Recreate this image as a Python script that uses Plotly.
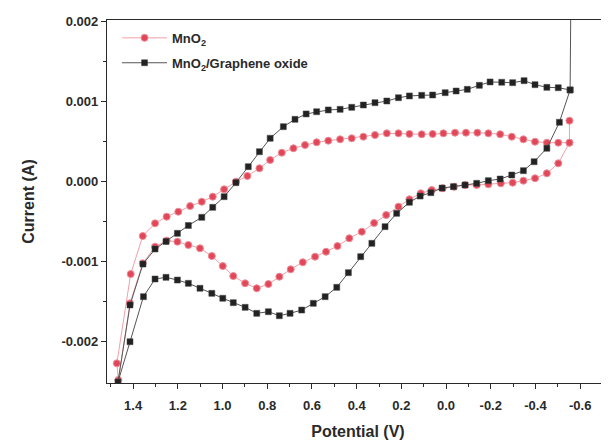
import plotly.graph_objects as go
import numpy as np

# MnO2 (red circles) potential (V) and current (mA)
mno2_v = [-0.552, -0.552, -0.502, -0.451, -0.398, -0.346, -0.298, -0.245, -0.189, -0.137,
          -0.085, -0.036, 0.015, 0.064, 0.113, 0.164, 0.213, 0.268, 0.322, 0.377,
          0.433, 0.486, 0.537, 0.586, 0.641, 0.695, 0.746, 0.795, 0.847, 0.899,
          0.952, 0.999, 1.048, 1.101, 1.153, 1.202, 1.250, 1.302, 1.357, 1.414,
          1.466, 1.473, 1.411, 1.357, 1.302, 1.250, 1.198, 1.145, 1.093, 1.044,
          0.993, 0.940, 0.889, 0.835, 0.787, 0.735, 0.683, 0.631, 0.579, 0.527,
          0.474, 0.422, 0.370, 0.318, 0.265, 0.213, 0.164, 0.109, 0.060, 0.012,
          -0.040, -0.089, -0.140, -0.189, -0.242, -0.294, -0.346, -0.398, -0.451, -0.502,
          -0.552]
mno2_i = [0.754, 0.479, 0.221, 0.096, 0.034, 0.004, -0.021, -0.029, -0.041, -0.050,
          -0.050, -0.071, -0.091, -0.113, -0.154, -0.229, -0.321, -0.425, -0.525, -0.634,
          -0.716, -0.813, -0.884, -0.946, -1.016, -1.104, -1.196, -1.288, -1.341, -1.279,
          -1.188, -1.063, -0.938, -0.841, -0.800, -0.759, -0.746, -0.821, -1.029, -1.529,
          -2.488, -2.279, -1.163, -0.688, -0.529, -0.446, -0.384, -0.313, -0.259, -0.196,
          -0.104, -0.009, 0.063, 0.159, 0.263, 0.354, 0.409, 0.450, 0.484, 0.504,
          0.521, 0.534, 0.554, 0.575, 0.596, 0.596, 0.588, 0.584, 0.588, 0.596,
          0.604, 0.604, 0.604, 0.596, 0.584, 0.554, 0.521, 0.491, 0.479, 0.479,
          0.479]

# MnO2/Graphene oxide (black squares) potential (V) and current (mA)
go_v = [-0.562, -0.555, -0.507, -0.451, -0.394, -0.346, -0.294, -0.242, -0.189, -0.137,
        -0.085, -0.033, 0.018, 0.068, 0.116, 0.164, 0.221, 0.273, 0.332, 0.382,
        0.437, 0.489, 0.541, 0.594, 0.646, 0.698, 0.746, 0.795, 0.847, 0.899,
        0.952, 0.999, 1.048, 1.101, 1.153, 1.202, 1.253, 1.302, 1.354, 1.414,
        1.468, 1.414, 1.356, 1.302, 1.253, 1.202, 1.153, 1.093, 1.044, 0.993,
        0.940, 0.885, 0.835, 0.787, 0.728, 0.676, 0.626, 0.579, 0.527, 0.474,
        0.422, 0.370, 0.318, 0.265, 0.213, 0.164, 0.109, 0.060, 0.004, -0.045,
        -0.095, -0.149, -0.197, -0.249, -0.298, -0.349, -0.398, -0.451, -0.502, -0.555]
go_i = [3.500, 1.138, 0.734, 0.409, 0.241, 0.129, 0.075, 0.025, 0.004, -0.029,
        -0.050, -0.071, -0.088, -0.146, -0.188, -0.266, -0.404, -0.571, -0.779, -0.946,
        -1.146, -1.329, -1.446, -1.529, -1.613, -1.654, -1.684, -1.634, -1.654, -1.579,
        -1.521, -1.466, -1.404, -1.341, -1.279, -1.238, -1.204, -1.225, -1.446, -2.009,
        -2.513, -1.550, -1.038, -0.850, -0.756, -0.654, -0.556, -0.454, -0.329, -0.196,
        -0.021, 0.179, 0.366, 0.534, 0.679, 0.771, 0.838, 0.866, 0.888, 0.896,
        0.921, 0.950, 0.979, 1.000, 1.041, 1.063, 1.071, 1.075, 1.104, 1.125,
        1.146, 1.196, 1.238, 1.234, 1.229, 1.254, 1.204, 1.171, 1.166, 1.138]

y_ticks = [0.002, 0.001, 0.0, -0.001, -0.002]
y_tick_labels = ["0.002", "0.001", "0.000", "-0.001", "-0.002"]
x_ticks = [1.4, 1.2, 1.0, 0.8, 0.6, 0.4, 0.2, 0.0, -0.2, -0.4, -0.6]
x_tick_labels = ["1.4", "1.2", "1.0", "0.8", "0.6", "0.4", "0.2", "0.0", "-0.2", "-0.4", "-0.6"]

font_family = "Liberation Sans, Arial, sans-serif"
ink = "#2a2a2a"

fig = go.Figure()
fig.add_trace(go.Scatter(
    x=mno2_v, y=np.array(mno2_i) * 1e-3, mode="lines+markers",
    name="MnO<sub>2</sub>", legendgroup="a",
    line=dict(color="#f2a0a8", width=1),
    marker=dict(symbol="circle", size=7, color="#e0485a",
                line=dict(color="#f08a96", width=1)),
))
fig.add_trace(go.Scatter(
    x=go_v, y=np.array(go_i) * 1e-3, mode="lines+markers",
    name="MnO<sub>2</sub>/Graphene oxide", legendgroup="b",
    line=dict(color="#555555", width=1),
    marker=dict(symbol="square", size=6, color="#222222",
                line=dict(color="#444444", width=0.5)),
))

fig.update_layout(
    width=601, height=438,
    margin=dict(l=99, r=0, t=12, b=63),
    paper_bgcolor="white", plot_bgcolor="white",
    font=dict(family=font_family, color=ink),
    showlegend=True,
    legend=dict(x=0.02, y=0.992, xanchor="left", yanchor="top",
                bgcolor="rgba(0,0,0,0)",
                font=dict(family=font_family, size=13, color=ink, weight="bold"),
                tracegroupgap=5, itemwidth=45),
)
fig.update_xaxes(
    range=[1.517, -0.729],
    tickmode="array", tickvals=x_ticks, ticktext=x_tick_labels,
    ticks="outside", ticklen=5, tickwidth=1, tickcolor=ink,
    minor=dict(ticks="outside", ticklen=3, dtick=0.1, tickcolor=ink),
    showline=True, linecolor=ink, linewidth=1.2, mirror=True,
    showgrid=False, zeroline=False,
    tickfont=dict(family=font_family, size=13, color=ink, weight="bold"),
    ticklabelstandoff=5,
    title=dict(text="Potential (V)", font=dict(family=font_family, size=16, color=ink, weight="bold"),
               standoff=14),
)
fig.update_yaxes(
    range=[-0.002525, 0.0020125],
    tickmode="array", tickvals=y_ticks, ticktext=y_tick_labels,
    ticks="outside", ticklen=5, tickwidth=1, tickcolor=ink,
    minor=dict(ticks="outside", ticklen=3, tickvals=[0.0015, 0.0005, -0.0005, -0.0015], tickcolor=ink),
    showline=True, linecolor=ink, linewidth=1.2,
    showgrid=False, zeroline=False,
    tickfont=dict(family=font_family, size=13, color=ink, weight="bold"),
    title=dict(text="Current (A)", font=dict(family=font_family, size=16, color=ink, weight="bold"),
               standoff=22),
)

fig.write_html("out.html")
